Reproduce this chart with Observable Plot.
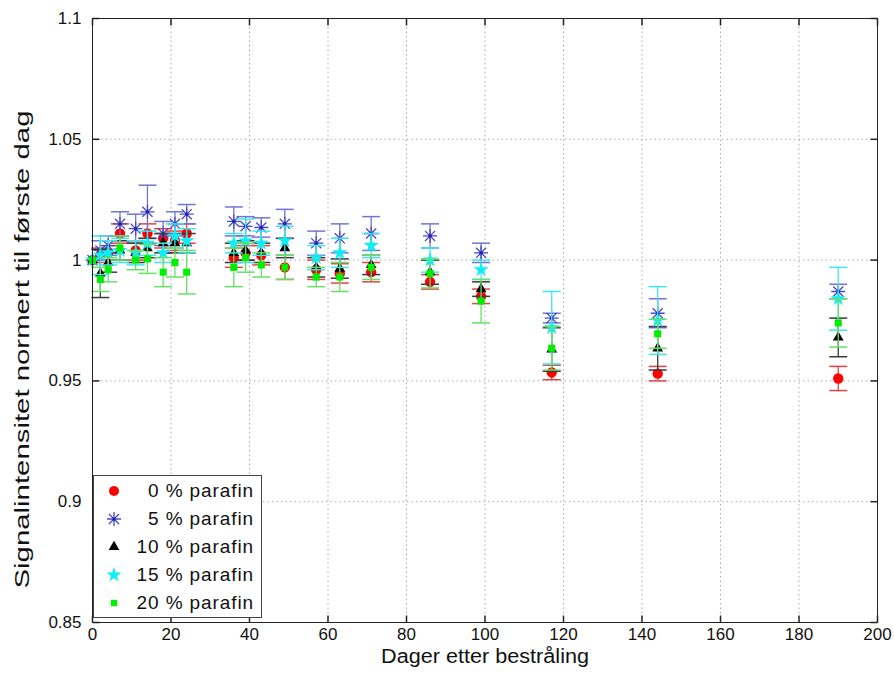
<!DOCTYPE html>
<html><head><meta charset="utf-8">
<script src="https://cdn.jsdelivr.net/npm/d3@7"></script>
<script src="https://cdn.jsdelivr.net/npm/@observablehq/plot@0.6"></script>
<style>
body{margin:0;background:#fff;font-family:"Liberation Sans",Arial,sans-serif;}
#wrap{position:relative;width:894px;height:675px;}
#legend{position:absolute;left:93px;top:475px;width:169px;height:143px;border:1px solid #444;background:#fff;box-sizing:border-box;}
.row{position:absolute;left:0;width:100%;height:26px;}
.row svg{position:absolute;left:8px;top:0;}
.row span{position:absolute;right:7px;top:2px;font-size:19px;letter-spacing:0.9px;color:#111;}
</style></head><body><div id="wrap"><div id="legend"></div></div>
<script>
const days = [0, 2, 4, 7, 11, 14, 18, 21, 24, 36, 39, 43, 49, 57, 63, 71, 86, 99, 117, 144, 190];
const p0  = [1.000, 1.002, 1.003, 1.011, 1.004, 1.011, 1.009, 1.008, 1.011, 1.001, 1.003, 1.002, 0.997, 0.996, 0.9945, 0.995, 0.991, 0.985, 0.9535, 0.953, 0.951];
const e0  = [0, 0.003, 0.003, 0.004, 0.004, 0.004, 0.004, 0.004, 0.004, 0.004, 0.003, 0.004, 0.005, 0.004, 0.004, 0.004, 0.003, 0.003, 0.003, 0.003, 0.005];
const p5  = [1.000, 1.004, 1.006, 1.015, 1.013, 1.020, 1.011, 1.015, 1.019, 1.016, 1.014, 1.0135, 1.015, 1.007, 1.009, 1.011, 1.010, 1.003, 0.976, 0.978, 0.987];
const e5  = [0, 0.004, 0.004, 0.005, 0.006, 0.011, 0.005, 0.005, 0.004, 0.006, 0.004, 0.004, 0.006, 0.005, 0.006, 0.007, 0.005, 0.004, 0.002, 0.006, 0.003];
const p10 = [1.000, 0.9945, 0.999, 1.004, 1.003, 1.005, 1.007, 1.007, 1.007, 1.003, 1.004, 1.003, 1.005, 0.997, 0.9965, 0.998, 0.995, 0.988, 0.963, 0.9635, 0.968];
const e10 = [0, 0.010, 0.004, 0.004, 0.004, 0.004, 0.004, 0.004, 0.004, 0.004, 0.004, 0.004, 0.004, 0.004, 0.004, 0.004, 0.005, 0.003, 0.009, 0.009, 0.008];
const p15 = [1.000, 1.002, 1.003, 1.004, 1.003, 1.007, 1.003, 1.010, 1.008, 1.007, 1.008, 1.007, 1.008, 1.001, 1.003, 1.006, 1.000, 0.996, 0.972, 0.975, 0.984];
const e15 = [0, 0.008, 0.005, 0.005, 0.005, 0.005, 0.004, 0.005, 0.005, 0.004, 0.009, 0.005, 0.006, 0.005, 0.006, 0.005, 0.005, 0.004, 0.015, 0.014, 0.013];
const p20 = [1.000, 0.992, 0.996, 1.005, 1.000, 1.0005, 0.995, 0.999, 0.995, 0.997, 1.001, 0.998, 0.997, 0.993, 0.993, 0.997, 0.9945, 0.983, 0.9635, 0.9695, 0.974];
const e20 = [0, 0.005, 0.005, 0.005, 0.004, 0.006, 0.006, 0.006, 0.009, 0.008, 0.006, 0.005, 0.005, 0.004, 0.006, 0.005, 0.006, 0.009, 0.009, 0.006, 0.010];
const seriesNames = ["0 % parafin", "5 % parafin", "10 % parafin", "15 % parafin", "20 % parafin"];
const xTicks = [0, 20, 40, 60, 80, 100, 120, 140, 160, 180, 200];
const yTicks = [0.85, 0.9, 0.95, 1, 1.05, 1.1];
const yTickLabels = ["0.85", "0.9", "0.95", "1", "1.05", "1.1"];
const xLabel = "Dager etter bestråling";
const yLabel = "Signalintensitet normert til første dag";

// custom symbols
const capSym = {draw(c){ c.moveTo(-9,0); c.lineTo(9,0); }};
const ast8 = {draw(c){ const r=7, d=r*0.72; c.moveTo(-r,0);c.lineTo(r,0);c.moveTo(0,-r);c.lineTo(0,r);c.moveTo(-d,-d);c.lineTo(d,d);c.moveTo(-d,d);c.lineTo(d,-d); }};
const tickUp = {draw(c){ c.moveTo(0,0); c.lineTo(0,-7); }};
const tickDown = {draw(c){ c.moveTo(0,0); c.lineTo(0,7); }};
const tickRight = {draw(c){ c.moveTo(0,0); c.lineTo(7,0); }};
const tickLeft = {draw(c){ c.moveTo(0,0); c.lineTo(-7,0); }};

const styles = [
  {vals:p0, errs:e0, bar:"#e04545", marker:{symbol:"circle", r:5.2, fill:"#ff0000", stroke:"none"}},
  {vals:p5, errs:e5, bar:"#7474d8", marker:{symbol:ast8, fill:"none", stroke:"#4a4ac8", strokeWidth:1.3}},
  {vals:p10, errs:e10, bar:"#3a3a3a", marker:{symbol:"triangle", r:4.0, fill:"#000", stroke:"none"}},
  {vals:p15, errs:e15, bar:"#40e6ec", marker:{symbol:"star", r:4.8, fill:"#10eef5", stroke:"none"}},
  {vals:p20, errs:e20, bar:"#66e066", marker:{symbol:"square", r:4.0, fill:"#00ee00", stroke:"none"}}
];

const seriesMarks = [];
styles.forEach((s, i) => {
  const data = days.map((d, j) => ({day:d, v:s.vals[j], e:s.errs[j]}));
  const withErr = data.filter(d => d.e > 0);
  seriesMarks.push(
    Plot.ruleX(withErr, {x:"day", y1:d=>d.v-d.e, y2:d=>d.v+d.e, stroke:s.bar, strokeWidth:1.3}),
    Plot.dot(withErr, {x:"day", y:d=>d.v-d.e, symbol:capSym, stroke:s.bar, strokeWidth:1.5, fill:"none"}),
    Plot.dot(withErr, {x:"day", y:d=>d.v+d.e, symbol:capSym, stroke:s.bar, strokeWidth:1.5, fill:"none"}),
    Plot.dot(data, {x:"day", y:"v", ...s.marker})
  );
  if (i === 1) seriesMarks.push(Plot.dot(data, {x:"day", y:"v", r:1.6, fill:"#2020b0", stroke:"none"}));
});

const chart = Plot.plot({
  width: 894, height: 675,
  marginLeft: 92, marginRight: 17, marginTop: 18, marginBottom: 53,
  style: {fontFamily: "'Liberation Sans', Arial, sans-serif", fontSize: "17px", background: "white", color: "#111"},
  x: {domain: [0, 200]},
  y: {domain: [0.85, 1.1]},
  marks: [
    Plot.gridX(xTicks, {stroke:"#aaa", strokeOpacity:1, strokeDasharray:"1.5,3"}),
    Plot.gridY(yTicks, {stroke:"#aaa", strokeOpacity:1, strokeDasharray:"1.5,3"}),
    Plot.axisX(xTicks, {tickSize:0, tickPadding:5, label:null, fontSize:17}),
    Plot.axisY(yTicks, {tickSize:0, tickPadding:11, label:null, fontSize:17, tickFormat:(d)=>yTickLabels[yTicks.indexOf(d)]}),
    Plot.dot(xTicks, {x:d=>d, frameAnchor:"bottom", symbol:tickUp, stroke:"#222", fill:"none"}),
    Plot.dot(xTicks, {x:d=>d, frameAnchor:"top", symbol:tickDown, stroke:"#222", fill:"none"}),
    Plot.dot(yTicks, {y:d=>d, frameAnchor:"left", symbol:tickRight, stroke:"#222", fill:"none"}),
    Plot.dot(yTicks, {y:d=>d, frameAnchor:"right", symbol:tickLeft, stroke:"#222", fill:"none"}),
    ...seriesMarks,
    Plot.frame({stroke:"#222"}),
    Plot.text([xLabel], {text:d=>d, frameAnchor:"bottom", dy:40, fontSize:20, fill:"#111", className:"xlab"}),
    Plot.text([yLabel], {text:d=>d, frameAnchor:"bottom-left", textAnchor:"start", dx:-64, dy:-34, rotate:-90, fontSize:20, fill:"#111", className:"ylab"})
  ]
});
const wrap = document.getElementById("wrap");
wrap.insertBefore(chart, wrap.firstChild);
// stretch axis titles to the reference extents
const xl = chart.querySelector(".xlab text");
if (xl) { xl.setAttribute("textLength", 208); xl.setAttribute("lengthAdjust", "spacingAndGlyphs"); }
const yl = chart.querySelector(".ylab text");
if (yl) { yl.setAttribute("textLength", 478); yl.setAttribute("lengthAdjust", "spacingAndGlyphs"); }

// legend
const legend = document.getElementById("legend");
const astPath = (()=>{const p=d3.path(); ast8.draw(p); return p.toString();})();
const legSyms = [
  `<circle cx="12" cy="13" r="5" fill="#ff0000"/>`,
  `<path d="${astPath}" transform="translate(12,13)" stroke="#4a4ac8" stroke-width="1.3" fill="none"/><circle cx="12" cy="13" r="1.6" fill="#2020b0"/>`,
  `<path d="${d3.symbol(d3.symbolTriangle, 50)()}" transform="translate(12,13)" fill="#000"/>`,
  `<path d="${d3.symbol(d3.symbolStar, 72)()}" transform="translate(12,13)" fill="#10eef5"/>`,
  `<path d="${d3.symbol(d3.symbolSquare, 40)()}" transform="translate(12,13)" fill="#00ee00"/>`
];
seriesNames.forEach((name, i) => {
  const row = document.createElement("div");
  row.className = "row";
  row.style.top = (2 + i * 28) + "px";
  row.innerHTML = `<svg width="26" height="26">${legSyms[i]}</svg><span>${name}</span>`;
  legend.appendChild(row);
});
</script>
</body></html>
